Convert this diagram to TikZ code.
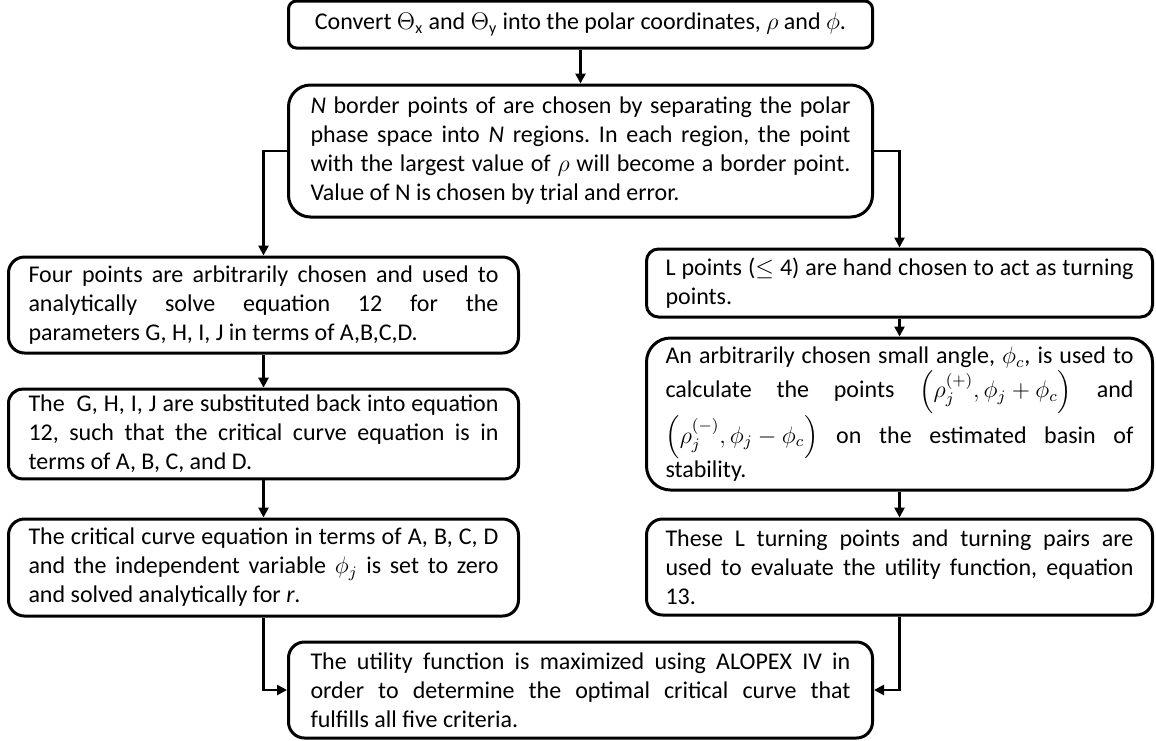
\documentclass[tikz,border=0pt]{standalone}
\usepackage{amsmath}
\usepackage{fontspec}
\setmainfont{Carlito}
\usetikzlibrary{arrows.meta}
\tolerance=9999
\hbadness=10000
\frenchspacing

\begin{document}
\begin{tikzpicture}[
    x=0.5pt, y=-0.5pt,
    >={Triangle[length=5pt,width=5pt]},
    box/.style={rectangle, draw, line width=1.5pt, rounded corners=8pt, align=justify, inner ysep=3pt, font=\fontsize{12}{14.5}\selectfont},
    wide/.style={box, text width=270pt, inner xsep=11pt},
    lcol/.style={box, text width=235pt, inner xsep=10pt},
    rcol/.style={box, text width=234pt, inner xsep=9.5pt},
    link/.style={->, line width=1.3pt}
  ]
    \useasboundingbox (0,0) rectangle (1156,740);
    \node[box, align=center, minimum width=292pt, minimum height=23.5pt, rounded corners=4pt] (conv) at (580.5,24.5) {Convert $\Theta_{\mathrm{x}}$ and $\Theta_{\mathrm{y}}$ into the polar coordinates, $\rho$ and $\phi$.};
    \node[wide, minimum height=66pt, rounded corners=11pt] (border) at (580.5,151) {\textit{N} border points of are chosen by separating the polar\linebreak phase space into \textit{N} regions. In each region, the point\linebreak with the largest value of $\rho$ will become a border point.\linebreak Value of N is chosen by trial and error.};
    \node[lcol, minimum height=48pt] (four) at (263.5,305) {Four points are arbitrarily chosen and used to\linebreak analytically solve equation 12 for the\linebreak parameters G, H, I, J in terms of A,B,C,D.};
    \node[lcol, minimum height=44pt, rounded corners=7pt] (subs) at (263.5,434) {The~ G, H, I, J are substituted back into equation\linebreak 12, such that the critical curve equation is in\linebreak terms of A, B, C, and D.};
    \node[lcol, minimum height=48.5pt] (crit) at (263.5,567.5) {The critical curve equation in terms of A, B, C, D\linebreak and the independent variable $\phi_j$ is set to zero\linebreak and solved analytically for \textit{r}.};
    \node[rcol, minimum height=34pt, rounded corners=6pt] (lpts) at (899.5,283) {L points ($\leq$ 4) are hand chosen to act as turning\linebreak points.};
    \node[rcol, minimum height=76pt, rounded corners=12pt, inner ysep=1pt] (angle) at (899.5,414) {\setlength{\lineskiplimit}{1.5pt}\setlength{\lineskip}{1.5pt}An arbitrarily chosen small angle, $\phi_c$, is used to\linebreak calculate the points $\left(\rho_j^{(+)},\phi_j+\phi_c\right)$ and\linebreak $\left(\rho_j^{(-)},\phi_j-\phi_c\right)$ on the estimated basin of\linebreak stability.};
    \node[rcol, minimum height=48pt] (eval) at (899.5,567) {These L turning points and turning pairs are\linebreak used to evaluate the utility function, equation\linebreak 13.};
    \node[wide, minimum height=48pt] (util) at (580.5,690) {The utility function is maximized using ALOPEX IV in\linebreak order to determine the optimal critical curve that\linebreak fulfills all five criteria.};
    \draw[link] (conv) -- (border);
    \draw[link] (border.west) -| (four.north);
    \draw[link] (border.east) -| (lpts.north);
    \draw[link] (four) -- (subs);
    \draw[link] (subs) -- (crit);
    \draw[link] (lpts) -- (angle);
    \draw[link] (angle) -- (eval);
    \draw[link] (crit.south) |- (util.west);
    \draw[link] (eval.south) |- (util.east);
  \end{tikzpicture}
\end{document}
